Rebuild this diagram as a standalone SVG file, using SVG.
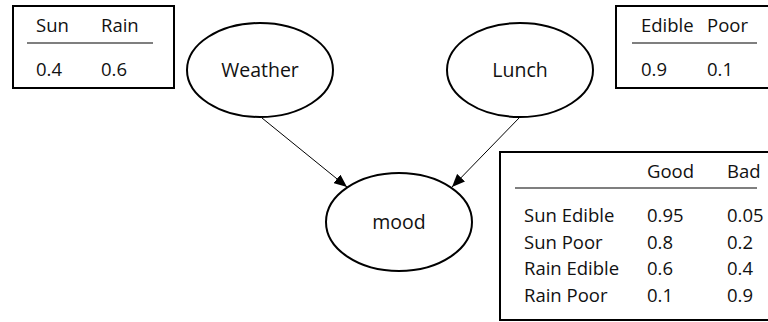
<svg xmlns="http://www.w3.org/2000/svg" width="768" height="322" viewBox="0 0 768 322">
  <defs>
    <marker id="arrow" viewBox="0 0 13 11" refX="13" refY="5.5" markerWidth="13" markerHeight="11" markerUnits="userSpaceOnUse" orient="auto">
      <path d="M0,0 L13,5.5 L0,11 Z" fill="#000"/>
    </marker>
  </defs>
  <style>
    text { font-family: "Open Sans", "Liberation Sans", sans-serif; fill: #111; }
    .cell { font-size: 18.5px; }
    .label { font-size: 19.5px; text-anchor: middle; }
    .node { fill: #fff; stroke: #000; stroke-width: 2; }
    .table { fill: #fff; stroke: #000; stroke-width: 2; }
    .rule { stroke: #000; stroke-width: 1.2; }
    .edge { stroke: #000; stroke-width: 1; fill: none; }
  </style>
  <rect width="768" height="322" fill="#fff"/>

  <!-- prior table for Weather -->
  <g id="weather-table">
    <rect class="table" x="13" y="6" width="161" height="82"/>
    <line class="rule" x1="27" y1="43" x2="153" y2="43"/>
    <text class="cell" x="36" y="32">Sun</text>
    <text class="cell" x="101" y="32">Rain</text>
    <text class="cell" x="36" y="76">0.4</text>
    <text class="cell" x="101" y="76">0.6</text>
  </g>

  <!-- prior table for Lunch -->
  <g id="lunch-table">
    <rect class="table" x="616" y="6" width="160" height="82"/>
    <line class="rule" x1="632" y1="43" x2="757" y2="43"/>
    <text class="cell" x="641" y="32">Edible</text>
    <text class="cell" x="707" y="32">Poor</text>
    <text class="cell" x="641" y="76">0.9</text>
    <text class="cell" x="707" y="76">0.1</text>
  </g>

  <!-- connectors -->
  <g id="edges">
    <line class="edge" x1="262" y1="118" x2="347" y2="187" marker-end="url(#arrow)"/>
    <line class="edge" x1="520" y1="117" x2="452" y2="187" marker-end="url(#arrow)"/>
  </g>

  <!-- nodes -->
  <g id="weather">
    <ellipse class="node" cx="260" cy="70" rx="73" ry="47"/>
    <text class="label" x="260" y="77">Weather</text>
  </g>
  <g id="lunch">
    <ellipse class="node" cx="520" cy="70" rx="73" ry="47"/>
    <text class="label" x="520" y="77">Lunch</text>
  </g>
  <g id="mood">
    <ellipse class="node" cx="399" cy="222" rx="73" ry="49"/>
    <text class="label" x="399" y="229">mood</text>
  </g>

  <!-- conditional table for mood -->
  <g id="mood-table">
    <rect class="table" x="500" y="152" width="280" height="168" stroke-width="1.5"/>
    <line class="rule" x1="515" y1="188" x2="757" y2="188"/>
    <text class="cell" x="647" y="178">Good</text>
    <text class="cell" x="727" y="178">Bad</text>
    <text class="cell" x="524" y="222">Sun Edible</text>
    <text class="cell" x="647" y="222">0.95</text>
    <text class="cell" x="727" y="222">0.05</text>
    <text class="cell" x="524" y="249">Sun Poor</text>
    <text class="cell" x="647" y="249">0.8</text>
    <text class="cell" x="727" y="249">0.2</text>
    <text class="cell" x="524" y="275">Rain Edible</text>
    <text class="cell" x="647" y="275">0.6</text>
    <text class="cell" x="727" y="275">0.4</text>
    <text class="cell" x="524" y="302">Rain Poor</text>
    <text class="cell" x="647" y="302">0.1</text>
    <text class="cell" x="727" y="302">0.9</text>
  </g>
</svg>
